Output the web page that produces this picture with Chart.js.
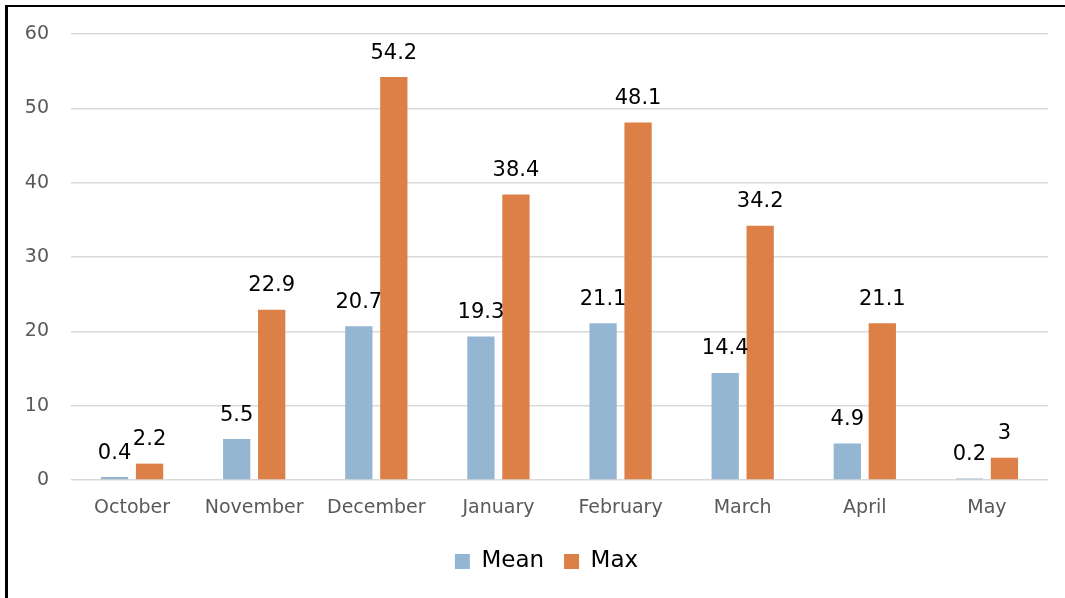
<!DOCTYPE html>
<html>
<head>
<meta charset="utf-8">
<script src="https://cdn.jsdelivr.net/npm/chart.js@4"></script>
<style>
    html, body { margin: 0; padding: 0; background: #fff; overflow: hidden; }
    #box { position: relative; width: 1065px; height: 598px; }
    #frame {
        position: absolute; left: 5px; top: 5px; width: 2000px; height: 2000px;
        border-left: 3px solid #000; border-top: 2px solid #000; pointer-events: none;
    }
</style>
</head>
<body>
<div id="box">
    <canvas id="chart" width="1065" height="598"></canvas>
    <div id="frame"></div>
</div>
<script>
// ------------------------------------------------------------
// data
// ------------------------------------------------------------
var MONTHS      = ["October", "November", "December", "January", "February", "March", "April", "May"];
var MEAN_VALUES = [0.4, 5.5, 20.7, 19.3, 21.1, 14.4, 4.9, 0.2];
var MAX_VALUES  = [2.2, 22.9, 54.2, 38.4, 48.1, 34.2, 21.1, 3];
var SERIES      = ["Mean", "Max"];
var Y_MIN = 0, Y_MAX = 60, Y_STEP = 10;

var COLORS = { mean: "#94b6d2", max: "#dd8047" };
var FONT = "'DejaVu Sans', sans-serif";

// draw the value above each bar
var valueLabels = {
    id: "valueLabels",
    afterDatasetsDraw: function (chart) {
        var ctx = chart.ctx;
        ctx.save();
        ctx.fillStyle = "#000";
        ctx.font = "21px " + FONT;
        ctx.textAlign = "center";
        ctx.textBaseline = "alphabetic";
        chart.data.datasets.forEach(function (ds, i) {
            chart.getDatasetMeta(i).data.forEach(function (bar, j) {
                ctx.fillText(String(ds.data[j]), bar.x, bar.y - 18.5);
            });
        });
        ctx.restore();
    }
};

// the legend in the reference sits a little right of the canvas centre
var legendShift = {
    id: "legendShift",
    afterLayout: function (chart) {
        if (chart.legend) { chart.legend.left += 45; }
    }
};

new Chart(document.getElementById("chart").getContext("2d"), {
    type: "bar",
    data: {
        labels: MONTHS,
        datasets: [
            { label: SERIES[0], data: MEAN_VALUES, backgroundColor: COLORS.mean, borderWidth: 0 },
            { label: SERIES[1], data: MAX_VALUES,  backgroundColor: COLORS.max,  borderWidth: 0 }
        ]
    },
    options: {
        responsive: false,
        animation: false,
        devicePixelRatio: 1,
        categoryPercentage: 0.573,
        barPercentage: 0.78,
        layout: { padding: { left: 0, top: 34, right: 17, bottom: 15 } },
        plugins: {
            legend: {
                position: "bottom",
                labels: {
                    color: "#000",
                    font: { family: FONT, size: 23 },
                    boxWidth: 15,
                    boxHeight: 15,
                    padding: 20
                }
            },
            tooltip: { enabled: false }
        },
        scales: {
            x: {
                grid: { display: false, drawTicks: false },
                border: { display: false },
                ticks: { color: "#595959", font: { family: FONT, size: 19 }, padding: 17, maxRotation: 0 },
                afterFit: function (scale) { scale.height = 50; }
            },
            y: {
                min: Y_MIN,
                max: Y_MAX,
                grid: { color: "#d9d9d9", lineWidth: 1.5, drawTicks: false },
                border: { display: false },
                ticks: { stepSize: Y_STEP, color: "#595959", font: { family: FONT, size: 19 }, padding: 22 },
                afterFit: function (scale) { scale.width = 71; }
            }
        }
    },
    plugins: [valueLabels, legendShift]
});
</script>
</body>
</html>
